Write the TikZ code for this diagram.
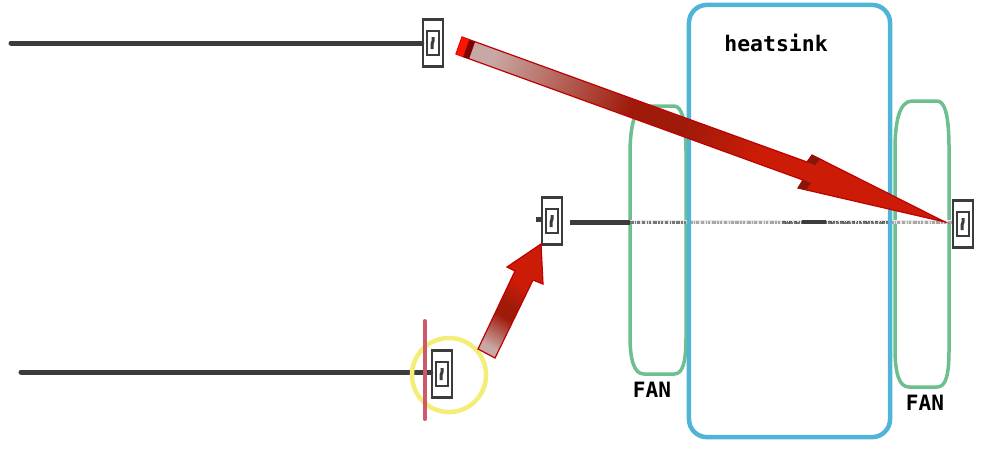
\documentclass[tikz,border=0pt]{standalone}
\usepackage{fontspec}
\usepackage{xcolor}
\newfontfamily\labelfont{DejaVu Sans Mono}
\definecolor{sinkblue}{HTML}{4FB4D6}
\definecolor{fangreen}{HTML}{6DBF8F}
\definecolor{wirecol}{HTML}{3C3C3C}
\definecolor{ringcol}{HTML}{F3EE78}
\definecolor{cutcol}{HTML}{CB5A6C}
\definecolor{tailcol}{HTML}{C8A8A4}
\definecolor{midred}{HTML}{A01A0A}
\definecolor{tipred}{HTML}{CC1C08}
\pgfdeclareverticalshading{longfade}{100bp}{color(0bp)=(tipred); color(42bp)=(tipred); color(52bp)=(midred); color(59bp)=(midred); color(77bp)=(tailcol); color(100bp)=(tailcol)}
\pgfdeclareverticalshading{shortfade}{100bp}{color(0bp)=(tipred); color(40bp)=(tipred); color(52bp)=(midred); color(59bp)=(midred); color(76bp)=(tailcol); color(100bp)=(tailcol)}
\tikzset{
  wire/.style={line width=0.05cm, wirecol},
  swouter/.style={draw=wirecol, line width=0.025cm, fill=white, minimum width=0.2cm, minimum height=0.47cm, inner sep=0pt},
  swinner/.style={draw=wirecol, line width=0.025cm, minimum width=0.12cm, minimum height=0.24cm, inner sep=0pt},
  fan/.style={draw=fangreen, line width=0.035cm},
  fanlabel/.style={font=\labelfont\bfseries\fontsize{6}{7}\selectfont, inner sep=0pt},
  bigarrow/.style={draw=red!75!black, line width=0.012cm}
}
\begin{document}
\begin{tikzpicture}[x=0.01cm,y=-0.01cm]
\useasboundingbox (0,0) rectangle (983,457);
% fans
\foreach \xa/\xb/\ya/\yb in {630/686/106/374, 895/949/101/387} {
  \draw[fan] (\xa,\ya+48) .. controls (\xa,\ya+22) and (\xa+4,\ya) .. (\xa+17,\ya)
    -- (\xb-12,\ya) .. controls (\xb-4,\ya) and (\xb,\ya+15) .. (\xb,\ya+48)
    -- (\xb,\yb-38) .. controls (\xb,\yb-12) and (\xb-3,\yb) .. (\xb-12,\yb)
    -- (\xa+14,\yb) .. controls (\xa+4,\yb) and (\xa,\yb-14) .. (\xa,\yb-38) -- cycle;
}
% wires
\coordinate (topstart) at (11,43);
\coordinate (lowstart) at (21,372);
\coordinate (midstub) at (536,219);
\coordinate (midstart) at (570,222);
\coordinate (midfan) at (630,222);
\draw[wirecol!12, line width=0.045cm] (midfan) -- (953,222);
\foreach \xa/\xb/\tone in {630/689/70, 689/782/45, 782/890/85, 890/953/45} {
  \draw[wirecol!\tone, line width=0.03cm, dash pattern=on 1pt off 0.4pt on 0.4pt off 0.3pt on 0.7pt off 0.5pt] (\xa,222) -- (\xb,222);
}
\draw[wirecol!70, line width=0.02cm, dash pattern=on 0.8pt off 0.3pt] (782,223) -- (890,223);
\draw[wirecol, line width=0.035cm] (802,222) -- (826,222);
% heatsink
\node[draw=sinkblue, line width=0.045cm, rounded corners=0.18cm, minimum width=2.01cm, minimum height=4.32cm, inner sep=0pt] (sink) at (789.5,221) {};
\node[fanlabel, font=\labelfont\bfseries\fontsize{6.1}{7}\selectfont] (sinklabel) at (776,43) {heatsink};
\node[fanlabel] (fanleftlabel) at (652,390) {FAN};
\node[fanlabel] (fanrightlabel) at (925,403) {FAN};
% switches
\foreach \nm/\x/\y in {swtop/433/43, swmid/552/221, swlow/442/374, swend/963/224} {
  \node[swouter] (\nm) at (\x,\y) {};
  \node[swinner] (\nm in) at (\x,\y) {};
  \draw[wirecol, line width=0.03cm] (\x,\y-6) -- (\x,\y-2) -- (\x-1,\y+1) -- (\x-1,\y+6);
}
\draw[wire, line cap=round] (topstart) -- (swtop.west |- topstart);
\draw[wire, line cap=round] (lowstart) -- (swlow.west |- lowstart);
\draw[wire] (midstub) -- (swmid.west |- midstub);
\draw[wire] (midstart) -- (midfan);
% ring and cut mark
\node[draw=ringcol, line width=0.045cm, circle, minimum size=0.74cm, inner sep=0pt] (ring) at (449,375) {};
\draw[cutcol, line width=0.04cm, line cap=round] (424.5,321) -- (424.5,419);
% arrows
\draw[bigarrow, shading=longfade, shading angle=70]
  (462,37) -- (807,162) -- (812,155) -- (945,222) -- (798,188) -- (803,180) -- (456,54) -- cycle;
\fill[midred!85!black] (807,162) -- (812,155) -- (820,159) -- (815,165) -- cycle;
\fill[midred!85!black] (803,180) -- (798,188) -- (806,190) -- (811,183) -- cycle;
\fill[red!85!orange] (462,37) -- (469,40) -- (463,57) -- (456,54) -- cycle;
\fill[red!50!black] (469,40) -- (475,42) -- (469,59) -- (463,57) -- cycle;
\draw[bigarrow, shading=shortfade, shading angle=150]
  (478,349) -- (515,271) -- (507,267) -- (541,244) -- (543,284) -- (533,280) -- (495,358) -- cycle;
\end{tikzpicture}
\end{document}
